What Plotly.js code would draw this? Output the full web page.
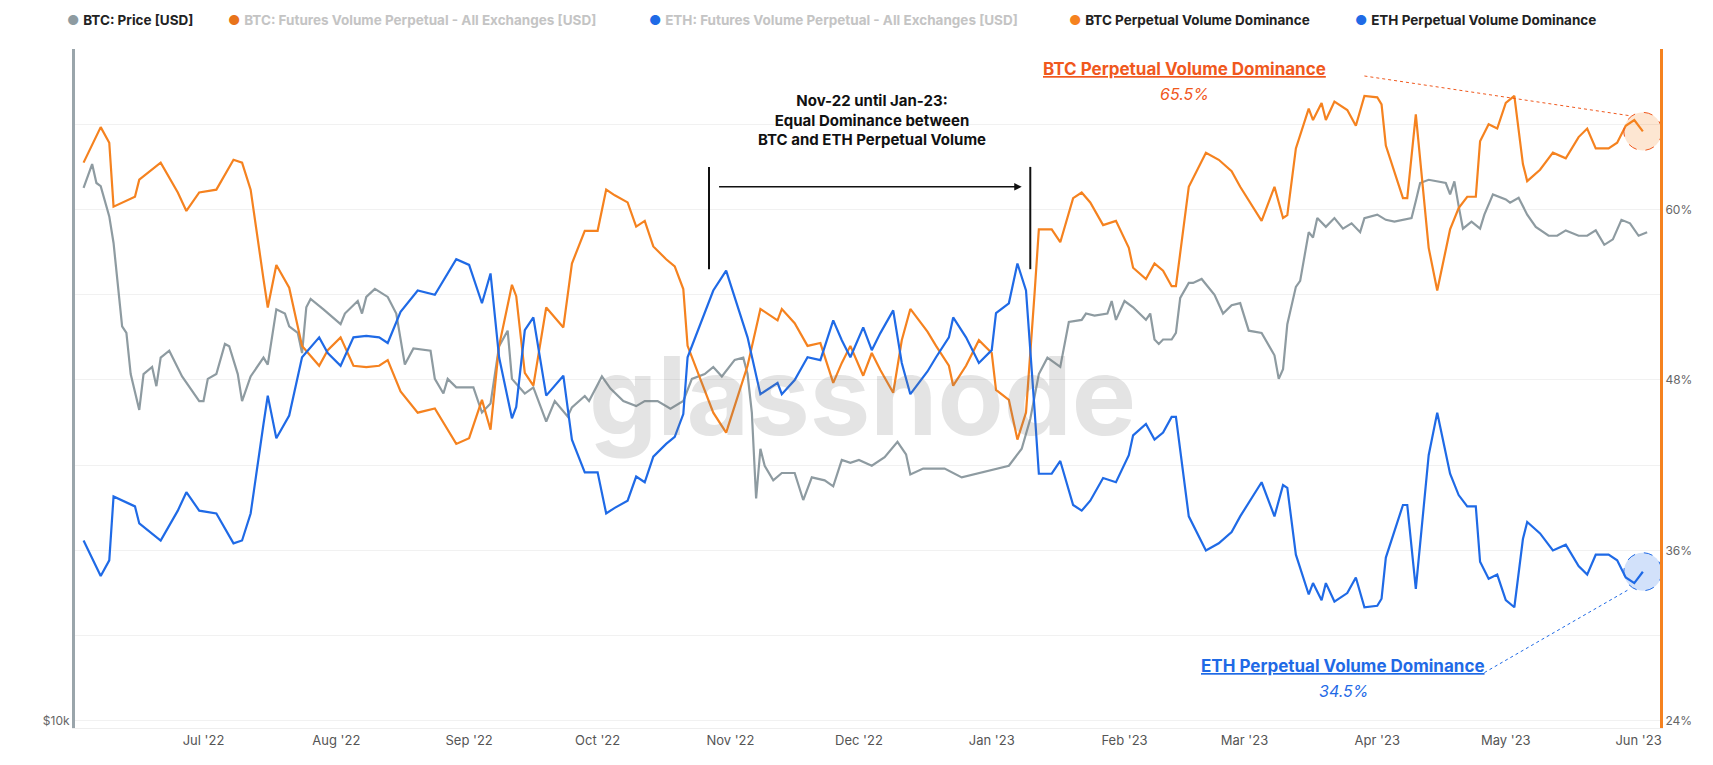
<!DOCTYPE html>
<html>
<head>
<meta charset="utf-8">
<script src="https://cdn.plot.ly/plotly-3.0.1.min.js"></script>
<style>
  html, body { margin: 0; padding: 0; background: #fff; }
  #chart { width: 1713px; height: 765px; }
</style>
</head>
<body>
<div id="chart"></div>
<script>
// Dominance series (percent)
var domDates = ["2022-06-03","2022-06-07","2022-06-09","2022-06-10","2022-06-15","2022-06-16","2022-06-21","2022-06-25","2022-06-27","2022-06-30",
  "2022-07-04","2022-07-08","2022-07-10","2022-07-12","2022-07-15","2022-07-16","2022-07-18","2022-07-21","2022-07-24","2022-07-28","2022-07-30",
  "2022-08-02","2022-08-05","2022-08-08","2022-08-11","2022-08-13","2022-08-16","2022-08-20","2022-08-24","2022-08-29",
  "2022-09-01","2022-09-04","2022-09-06","2022-09-08","2022-09-11","2022-09-12","2022-09-14","2022-09-16","2022-09-19","2022-09-23","2022-09-25","2022-09-28",
  "2022-10-01","2022-10-03","2022-10-05","2022-10-08","2022-10-10","2022-10-12","2022-10-14","2022-10-17","2022-10-19","2022-10-21","2022-10-22","2022-10-25","2022-10-28","2022-10-31",
  "2022-11-03","2022-11-05","2022-11-08","2022-11-12","2022-11-13","2022-11-16","2022-11-19","2022-11-22","2022-11-25","2022-11-27","2022-11-29",
  "2022-12-02","2022-12-04","2022-12-06","2022-12-09","2022-12-11","2022-12-13","2022-12-17","2022-12-19","2022-12-22","2022-12-23","2022-12-26","2022-12-29",
  "2023-01-01","2023-01-02","2023-01-05","2023-01-07","2023-01-09","2023-01-11","2023-01-12","2023-01-15","2023-01-17","2023-01-20","2023-01-22","2023-01-24","2023-01-27","2023-01-30",
  "2023-02-02","2023-02-03","2023-02-06","2023-02-08","2023-02-10","2023-02-12","2023-02-13","2023-02-16","2023-02-20","2023-02-23","2023-02-26","2023-02-28",
  "2023-03-05","2023-03-08","2023-03-10","2023-03-11","2023-03-13","2023-03-16","2023-03-17","2023-03-19","2023-03-20","2023-03-22","2023-03-25","2023-03-27","2023-03-29",
  "2023-04-01","2023-04-02","2023-04-03","2023-04-07","2023-04-08","2023-04-10","2023-04-13","2023-04-15","2023-04-18","2023-04-20","2023-04-22","2023-04-24","2023-04-25","2023-04-27","2023-04-29",
  "2023-05-01","2023-05-03","2023-05-05","2023-05-06","2023-05-09","2023-05-12","2023-05-15","2023-05-18","2023-05-20","2023-05-22","2023-05-25","2023-05-27","2023-05-29","2023-05-31","2023-06-02"];

var btcDominance = [63.3,65.8,64.7,60.2,60.9,62.1,63.3,61.2,59.9,61.2,
  61.4,63.5,63.3,61.4,55.1,53.1,56.1,54.5,50.4,49.0,50.1,
  51.0,49.0,48.9,49.0,49.4,47.2,45.7,46.0,43.5,
  43.9,46.6,44.5,50.4,54.7,53.9,48.5,47.6,53.1,51.7,56.2,58.5,
  58.5,61.4,61.0,60.5,58.8,59.2,57.4,56.5,56.0,54.4,50.4,48.0,45.7,44.3,
  47.1,49.0,53.0,52.2,53.0,52.0,50.4,50.6,47.8,49.2,50.4,
  48.3,49.9,48.7,47.1,50.8,53.0,51.4,50.4,49.0,47.6,49.0,50.8,
  49.9,47.3,46.6,43.8,45.7,54.1,58.6,58.6,57.7,60.8,61.2,60.5,58.9,59.2,
  57.3,55.9,55.1,56.2,55.7,54.6,54.6,61.6,64.0,63.5,62.7,61.6,
  59.2,61.6,59.4,59.6,64.3,67.1,66.3,67.5,66.3,67.6,67.0,65.9,68.0,
  67.9,67.4,64.5,60.8,60.8,66.7,57.3,54.3,58.6,60.1,60.9,60.9,64.8,66.0,65.7,
  67.5,68.0,63.2,62.0,62.8,64.0,63.6,65.1,65.7,64.3,64.3,64.7,65.9,66.3,65.5];

var ethDominance = [36.7,34.2,35.3,39.8,39.1,37.9,36.7,38.8,40.1,38.8,
  38.6,36.5,36.7,38.6,44.9,46.9,43.9,45.5,49.6,51.0,49.9,
  49.0,51.0,51.1,51.0,50.6,52.8,54.3,54.0,56.5,
  56.1,53.4,55.5,49.6,45.3,46.1,51.5,52.4,46.9,48.3,43.8,41.5,
  41.5,38.6,39.0,39.5,41.2,40.8,42.6,43.5,44.0,45.6,49.6,52.0,54.3,55.7,
  52.9,51.0,47.0,47.8,47.0,48.0,49.6,49.4,52.2,50.8,49.6,
  51.7,50.1,51.3,52.9,49.2,47.0,48.6,49.6,51.0,52.4,51.0,49.2,
  50.1,52.7,53.4,56.2,54.3,45.9,41.4,41.4,42.3,39.2,38.8,39.5,41.1,40.8,
  42.7,44.1,44.9,43.8,44.3,45.4,45.4,38.4,36.0,36.5,37.3,38.4,
  40.8,38.4,40.6,40.4,35.7,32.9,33.7,32.5,33.7,32.4,33.0,34.1,32.0,
  32.1,32.6,35.5,39.2,39.2,33.3,42.7,45.7,41.4,39.9,39.1,39.1,35.2,34.0,34.3,
  32.5,32.0,36.8,38.0,37.2,36.0,36.4,34.9,34.3,35.7,35.7,35.3,34.1,33.7,34.5];

// BTC price (USD)
var priceDates = ["2022-06-03","2022-06-05","2022-06-06","2022-06-07","2022-06-09","2022-06-10","2022-06-12","2022-06-13","2022-06-14","2022-06-16","2022-06-17","2022-06-19","2022-06-20","2022-06-21","2022-06-23","2022-06-26","2022-06-30",
  "2022-07-01","2022-07-02","2022-07-04","2022-07-06","2022-07-07","2022-07-09","2022-07-10","2022-07-12","2022-07-15","2022-07-16","2022-07-18","2022-07-20","2022-07-21","2022-07-23","2022-07-24","2022-07-25","2022-07-26","2022-07-29",
  "2022-08-02","2022-08-03","2022-08-06","2022-08-07","2022-08-08","2022-08-10","2022-08-13","2022-08-15","2022-08-17","2022-08-19","2022-08-23","2022-08-24","2022-08-26","2022-08-27","2022-08-29",
  "2022-09-02","2022-09-04","2022-09-06","2022-09-08","2022-09-10","2022-09-11","2022-09-14","2022-09-16","2022-09-19","2022-09-21","2022-09-24","2022-09-25","2022-09-28","2022-09-29",
  "2022-10-02","2022-10-04","2022-10-07","2022-10-10","2022-10-12","2022-10-15","2022-10-18","2022-10-21","2022-10-23","2022-10-26","2022-10-28","2022-10-30",
  "2022-11-02","2022-11-04","2022-11-05","2022-11-06","2022-11-07","2022-11-08","2022-11-09","2022-11-11","2022-11-13","2022-11-16","2022-11-18","2022-11-20","2022-11-23","2022-11-25","2022-11-27","2022-11-29",
  "2022-12-01","2022-12-04","2022-12-07","2022-12-10","2022-12-12","2022-12-13","2022-12-16","2022-12-21","2022-12-25","2022-12-29",
  "2023-01-02","2023-01-05","2023-01-08","2023-01-10","2023-01-12","2023-01-14","2023-01-17","2023-01-19","2023-01-22","2023-01-23","2023-01-25","2023-01-28","2023-01-29","2023-01-30",
  "2023-02-01","2023-02-03","2023-02-06","2023-02-07","2023-02-08","2023-02-09","2023-02-10","2023-02-12","2023-02-13","2023-02-14","2023-02-16","2023-02-17","2023-02-19","2023-02-22","2023-02-24","2023-02-26","2023-02-28",
  "2023-03-02","2023-03-05","2023-03-08","2023-03-09","2023-03-10","2023-03-11","2023-03-13","2023-03-14","2023-03-16","2023-03-17","2023-03-18","2023-03-20","2023-03-22","2023-03-24","2023-03-26","2023-03-28","2023-03-29",
  "2023-04-01","2023-04-03","2023-04-05","2023-04-07","2023-04-09","2023-04-10","2023-04-11","2023-04-13","2023-04-15","2023-04-17","2023-04-18","2023-04-19","2023-04-20","2023-04-21","2023-04-23","2023-04-25","2023-04-26","2023-04-28",
  "2023-05-01","2023-05-02","2023-05-04","2023-05-06","2023-05-08","2023-05-11","2023-05-13","2023-05-15","2023-05-18","2023-05-20","2023-05-22","2023-05-24","2023-05-26","2023-05-28","2023-05-30","2023-06-01","2023-06-03"];

var btcPrice = [29900,31400,30200,30000,28200,26700,22500,22200,20400,18950,20400,20700,19900,21100,21400,20300,19300,
  19300,20200,20400,21700,21600,20400,19300,20300,21100,20800,23300,23100,22500,22200,21300,23400,23800,23300,
  22600,23100,23700,23100,23900,24300,23900,23100,20800,21500,21400,20200,19600,20200,19850,
  19850,18850,19200,21600,22300,20200,19600,19850,18500,19300,18700,19050,19500,19300,
  20300,19800,19300,19100,19300,19300,19000,19300,20200,20400,20700,20300,
  21000,21100,20400,18850,15800,17500,16900,16400,16650,16650,15750,16500,16400,16200,17100,17000,
  17100,16900,17200,17750,17300,16600,16800,16800,16500,16650,
  16800,16900,17500,18600,20400,21100,20700,22700,22800,23100,23000,23100,23700,22800,
  23700,23400,22800,23100,21900,21700,21900,21900,22200,23850,24600,24600,24800,24000,23100,23500,23600,
  22300,22200,21200,20200,20600,22600,24400,24700,27300,27000,28100,27600,28100,27500,27800,27300,28100,
  28300,28000,27900,28000,28100,29100,30200,30400,30300,30200,29500,30300,28800,27500,27900,27500,28300,29500,
  29200,29000,29300,28300,27600,27100,27100,27400,27100,27100,27400,26600,26900,28000,27800,27100,27300];

var monthTicks = ["2022-07-01","2022-08-01","2022-09-01","2022-10-01","2022-11-01","2022-12-01",
  "2023-01-01","2023-02-01","2023-03-01","2023-04-01","2023-05-01","2023-06-01"];
var monthLabels = ["Jul '22","Aug '22","Sep '22","Oct '22","Nov '22","Dec '22",
  "Jan '23","Feb '23","Mar '23","Apr '23","May '23","Jun '23"];
var pctTicks = [24,30,36,42,48,54,60,66,72];
var pctLabels = ["24%","","36%","","48%","","60%","",""];

var lastDate = domDates[domDates.length - 1];
var lastBtc = btcDominance[btcDominance.length - 1];
var lastEth = ethDominance[ethDominance.length - 1];

var GRAY = "#8e9ba1", ORANGE = "#f5821f", BLUE = "#1f6ae6";
var FONT = "Inter, 'Noto Sans', sans-serif";

var traces = [
  {x: priceDates, y: btcPrice, type: "scatter", mode: "lines", yaxis: "y",
   line: {color: GRAY, width: 2.2}, name: "BTC: Price [USD]"},
  {x: domDates, y: btcDominance, type: "scatter", mode: "lines", yaxis: "y2",
   line: {color: ORANGE, width: 2.2}, name: "BTC Perpetual Volume Dominance"},
  {x: domDates, y: ethDominance, type: "scatter", mode: "lines", yaxis: "y2",
   line: {color: BLUE, width: 2.2}, name: "ETH Perpetual Volume Dominance"}
];

// legend drawn as annotations (glassnode style dots)
var legendItems = [
  {x: -0.006, dot: GRAY, text: "BTC: Price [USD]", col: "#222"},
  {x: 0.095, dot: "#e8731a", text: "BTC: Futures Volume Perpetual - All Exchanges [USD]", col: "#c4c4c4"},
  {x: 0.361, dot: BLUE, text: "ETH: Futures Volume Perpetual - All Exchanges [USD]", col: "#c4c4c4"},
  {x: 0.626, dot: ORANGE, text: "BTC Perpetual Volume Dominance", col: "#222"},
  {x: 0.806, dot: BLUE, text: "ETH Perpetual Volume Dominance", col: "#222"}
];
var annotations = legendItems.map(function(it) {
  return {xref: "paper", yref: "paper", x: it.x, y: 1.043, xanchor: "left", yanchor: "middle",
    showarrow: false, text: "<span style='color:" + it.dot + "'>●</span> <b>" + it.text + "</b>",
    font: {family: FONT, size: 13.5, color: it.col}};
});

annotations.push(
  {xref: "paper", yref: "paper", x: 0.497, y: 0.49, showarrow: false, text: "<b>glassnode</b>",
   font: {family: FONT, size: 108, color: "rgba(120,120,120,0.2)"}},
  {xref: "x", yref: "y2", x: "2022-12-04", y: 66.3, showarrow: false,
   text: "<b>Nov-22 until Jan-23:<br>Equal Dominance between<br>BTC and ETH Perpetual Volume</b>",
   font: {family: FONT, size: 15, color: "#111"}, align: "center"},
  {xref: "x", yref: "y2", axref: "x", ayref: "y2", x: "2023-01-08", y: 61.6, ax: "2022-10-29", ay: 61.6,
   showarrow: true, arrowhead: 2, arrowsize: 1, arrowwidth: 1.5, arrowcolor: "#111", text: ""},
  {xref: "x", yref: "y2", x: "2023-02-15", y: 69.9, showarrow: false,
   text: "<b><u>BTC Perpetual Volume Dominance</u></b>", font: {family: FONT, size: 17, color: "#f0581d"}},
  {xref: "x", yref: "y2", x: "2023-02-15", y: 68.1, showarrow: false,
   text: "<i>" + lastBtc + "%</i>", font: {family: FONT, size: 16, color: "#f0581d"}},
  {xref: "x", yref: "y2", x: "2023-03-24", y: 27.9, showarrow: false,
   text: "<b><u>ETH Perpetual Volume Dominance</u></b>", font: {family: FONT, size: 17, color: BLUE}},
  {xref: "x", yref: "y2", x: "2023-03-24", y: 26.1, showarrow: false,
   text: "<i>" + lastEth + "%</i>", font: {family: FONT, size: 16, color: BLUE}}
);

var shapes = [
  {type: "line", xref: "x", yref: "y2", x0: "2022-10-27", x1: "2022-10-27", y0: 55.8, y1: 63.0,
   line: {color: "#111", width: 2}},
  {type: "line", xref: "x", yref: "y2", x0: "2023-01-10", x1: "2023-01-10", y0: 55.8, y1: 63.0,
   line: {color: "#111", width: 2}},
  {type: "line", xref: "x", yref: "y2", x0: "2023-03-29", y0: 69.4, x1: "2023-05-30", y1: 66.6,
   line: {color: "#f0581d", width: 1, dash: "dot"}},
  {type: "line", xref: "x", yref: "y2", x0: "2023-04-26", y0: 27.4, x1: "2023-05-30", y1: 33.3,
   line: {color: BLUE, width: 1, dash: "dot"}},
  {type: "circle", xref: "x", yref: "y2", xsizemode: "pixel", ysizemode: "pixel",
   xanchor: lastDate, yanchor: lastBtc, x0: -19, x1: 19, y0: -19, y1: 19,
   fillcolor: "rgba(245,130,31,0.2)", line: {color: "#f0581d", width: 1, dash: "dash"}},
  {type: "circle", xref: "x", yref: "y2", xsizemode: "pixel", ysizemode: "pixel",
   xanchor: lastDate, yanchor: lastEth, x0: -19, x1: 19, y0: -19, y1: 19,
   fillcolor: "rgba(31,106,230,0.2)", line: {color: BLUE, width: 1, dash: "dash"}}
];

var layout = {
  width: 1713, height: 765,
  margin: {l: 75, r: 53, t: 49, b: 37},
  paper_bgcolor: "#fff", plot_bgcolor: "#fff",
  showlegend: false,
  font: {family: FONT, color: "#555"},
  xaxis: {
    type: "date", range: ["2022-06-01", "2023-06-06"],
    tickvals: monthTicks, ticktext: monthLabels,
    showgrid: false, zeroline: false, showline: true, linecolor: "#eeeeee",
    ticks: "", tickfont: {family: FONT, size: 13, color: "#555"}
  },
  yaxis: {
    type: "log", range: [3.994, 4.5995],
    tickvals: [10000], ticktext: ["$10k"],
    showgrid: false, zeroline: false, showline: true, linecolor: "#9aa5ab", linewidth: 3,
    tickfont: {family: FONT, size: 12, color: "#666"}
  },
  yaxis2: {
    overlaying: "y", side: "right", range: [23.5, 71.3],
    tickvals: pctTicks, ticktext: pctLabels,
    showgrid: true, gridcolor: "#f1f1f1", zeroline: false,
    showline: true, linecolor: ORANGE, linewidth: 3,
    tickfont: {family: FONT, size: 12, color: "#666"}
  },
  annotations: annotations,
  shapes: shapes
};

Plotly.newPlot("chart", traces, layout, {displayModeBar: false, staticPlot: true});
</script>
</body>
</html>
